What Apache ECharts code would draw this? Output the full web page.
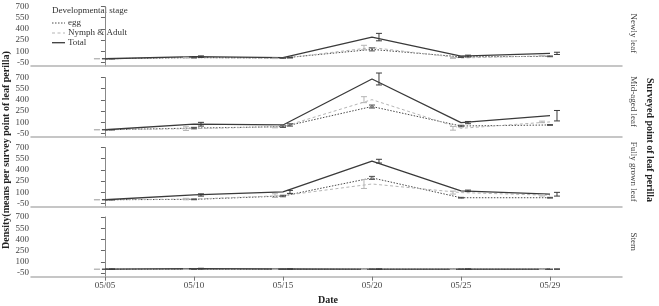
<!DOCTYPE html>
<html>
<head>
<meta charset="utf-8">
<script src="https://cdn.jsdelivr.net/npm/echarts@6/dist/echarts.min.js"></script>
<style>
html,body{margin:0;padding:0;background:#fff;}
#c{width:659px;height:306px;}
</style>
</head>
<body>
<div id="c"></div>
<script>
// ---- data ----
const dates = ['05/05', '05/10', '05/15', '05/20', '05/25', '05/29'];
const panelNames = ['Newly leaf', 'Mid-aged leaf', 'Fully grown leaf', 'Stem'];
const seriesNames = ['egg', 'Nymph & Adult', 'Total'];
const yTicks = [-50, 100, 250, 400, 550, 700];

// Newly leaf
const eggNewly   = [0, 15, 10, 125, 25, 32];
const nymphNewly = [0, 15, 5, 150, 10, 40];
const totalNewly = [0, 28, 15, 290, 36, 72];
const eggNewlyErr   = [1, 5, 3, 20, 8, 5];
const nymphNewlyErr = [1, 5, 3, 30, 5, 5];
const totalNewlyErr = [2, 10, 5, 50, 12, 15];
// Mid-aged leaf
const eggMid   = [0, 22, 41, 311, 50, 64];
const nymphMid = [0, 15, 41, 403, 19, 105];
const totalMid = [0, 74, 64, 680, 96, 188];
const eggMidErr   = [2, 10, 10, 20, 10, 5];
const nymphMidErr = [2, 25, 15, 40, 25, 10];
const totalMidErr = [3, 25, 15, 80, 15, 70];
// Fully grown leaf
const eggFully   = [0, 5, 50, 293, 27, 27];
const nymphFully = [0, 9, 55, 211, 96, 60];
const totalFully = [0, 64, 105, 517, 119, 74];
const eggFullyErr   = [2, 5, 10, 20, 5, 5];
const nymphFullyErr = [2, 10, 25, 60, 20, 10];
const totalFullyErr = [3, 15, 20, 25, 10, 25];
// Stem
const eggStem   = [0, 2, 0, 0, 0, 0];
const nymphStem = [0, 0, 0, 0, 0, 0];
const totalStem = [2, 8, 3, 2, 2, 2];
const eggStemErr   = [1, 2, 1, 1, 1, 1];
const nymphStemErr = [1, 2, 1, 1, 1, 1];
const totalStemErr = [2, 5, 2, 2, 2, 2];

const panelValues = [
  [eggNewly, nymphNewly, totalNewly],
  [eggMid, nymphMid, totalMid],
  [eggFully, nymphFully, totalFully],
  [eggStem, nymphStem, totalStem]
];
const panelErrors = [
  [eggNewlyErr, nymphNewlyErr, totalNewlyErr],
  [eggMidErr, nymphMidErr, totalMidErr],
  [eggFullyErr, nymphFullyErr, totalFullyErr],
  [eggStemErr, nymphStemErr, totalStemErr]
];

// ---- styles ----
const FONT = 'Liberation Serif';
const lineStyles = [
  {color: '#4a4a4a', width: 1, type: [1.5, 1.5]},
  {color: '#b5b5b5', width: 1, type: [3, 2.5]},
  {color: '#3a3a3a', width: 1.3, type: 'solid'}
];
const errOffsets = [0, -8, 7];
const gridTops = [6.5, 77.5, 147.5, 217];
const gridH = 59.7;
const sepColor = '#b4b4b4';

const grids = [], xAxes = [], yAxes = [], series = [];
for (let p = 0; p < 4; p++) {
  grids.push({left: 31, right: 37, top: gridTops[p], height: gridH});
  const last = p === 3;
  xAxes.push({
    gridIndex: p, type: 'value', min: -0.831, max: 5.809,
    axisLine: {show: true, onZero: false, lineStyle: {color: sepColor, width: 1.5}},
    axisTick: {show: last, customValues: [0, 1, 2, 3, 4, 5], length: 4, lineStyle: {color: '#777'}},
    axisLabel: {show: last, customValues: [0, 1, 2, 3, 4, 5], formatter: v => dates[Math.round(v)],
      fontFamily: FONT, fontSize: 9, color: '#444', margin: 4},
    splitLine: {show: false}
  });
  yAxes.push({
    gridIndex: p, type: 'value', min: -100, max: 700,
    axisLine: {show: true, lineStyle: {color: '#888', width: 1}},
    axisTick: {show: true, customValues: yTicks, length: 4, lineStyle: {color: '#666'}},
    axisLabel: {customValues: yTicks, fontFamily: FONT, fontSize: 9, color: '#444', margin: 2},
    splitLine: {show: false}
  });
  for (let s = 0; s < 3; s++) {
    const vals = panelValues[p][s];
    series.push({
      name: seriesNames[s], type: 'line', xAxisIndex: p, yAxisIndex: p,
      symbol: 'none', silent: true, animation: false,
      lineStyle: lineStyles[s], itemStyle: {color: lineStyles[s].color},
      z: s === 2 ? 4 : 3,
      data: vals.map((v, i) => [i, v])
    });
    const errs = panelErrors[p][s];
    const off = errOffsets[s];
    const ls = lineStyles[s];
    series.push({
      type: 'custom', xAxisIndex: p, yAxisIndex: p, silent: true, animation: false,
      z: 5,
      data: vals.map((v, i) => [i, v - errs[i], v + errs[i]]),
      renderItem: function (params, api) {
        const lo = api.coord([api.value(0), api.value(1)]);
        const hi = api.coord([api.value(0), api.value(2)]);
        const x = lo[0] + off;
        const cw = 3;
        const st = {stroke: ls.color, lineWidth: 1};
        return {type: 'group', children: [
          {type: 'line', shape: {x1: x, y1: lo[1], x2: x, y2: hi[1]}, style: st},
          {type: 'line', shape: {x1: x - cw, y1: lo[1], x2: x + cw, y2: lo[1]}, style: st},
          {type: 'line', shape: {x1: x - cw, y1: hi[1], x2: x + cw, y2: hi[1]}, style: st}
        ]};
      }
    });
  }
}

// strip labels
const graphics = [];
const sepYs = [0, 66.7, 136.7, 206.7, 276.7];
for (let p = 0; p < 4; p++) {
  graphics.push({
    type: 'text', x: 633, y: (sepYs[p] + sepYs[p + 1]) / 2, rotation: -Math.PI / 2,
    style: {text: panelNames[p], font: '9px "' + FONT + '"', fill: '#444', align: 'center', verticalAlign: 'middle'}
  });
}
graphics.push({
  type: 'text', x: 650, y: 140, rotation: -Math.PI / 2,
  style: {text: 'Surveyed point of leaf perilla', font: 'bold 10px "' + FONT + '"', fill: '#222', align: 'center', verticalAlign: 'middle'}
});
graphics.push({
  type: 'text', x: 6, y: 150, rotation: Math.PI / 2,
  style: {text: 'Density(means per survey point of leaf perilla)', font: 'bold 10px "' + FONT + '"', fill: '#222', align: 'center', verticalAlign: 'middle'}
});
graphics.push({
  type: 'text', x: 328, y: 300.5,
  style: {text: 'Date', font: 'bold 10px "' + FONT + '"', fill: '#222', align: 'center', verticalAlign: 'middle'}
});
graphics.push({
  type: 'text', x: 52, y: 11,
  style: {text: 'Developmental stage', font: '9px "' + FONT + '"', fill: '#333', align: 'left', verticalAlign: 'middle'}
});
// legend entries (line samples + labels)
const legendYs = [23, 33, 42.7];
for (let s = 0; s < 3; s++) {
  const ls = lineStyles[s];
  graphics.push({
    type: 'line', shape: {x1: 52, y1: legendYs[s], x2: 65, y2: legendYs[s]},
    style: {stroke: ls.color, lineWidth: ls.width, lineDash: ls.type === 'solid' ? null : ls.type}
  });
  graphics.push({
    type: 'text', x: 68, y: legendYs[s],
    style: {text: seriesNames[s], font: '9px "' + FONT + '"', fill: '#333', align: 'left', verticalAlign: 'middle'}
  });
}

const chart = echarts.init(document.getElementById('c'), null, {renderer: 'canvas'});
chart.setOption({
  animation: false,
  backgroundColor: '#fff',
  grid: grids, xAxis: xAxes, yAxis: yAxes, series: series,
  graphic: graphics
});
</script>
</body>
</html>
